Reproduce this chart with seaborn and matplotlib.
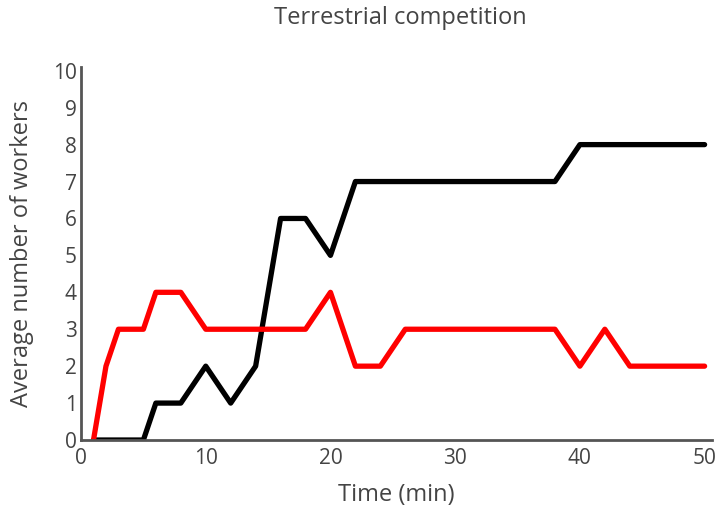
import numpy as np
import pandas as pd
import seaborn as sns
from matplotlib import pyplot as plt

# time points (min) and average number of workers per colony type
time = [1, 2, 3, 4, 5, 6, 8, 10, 12, 14, 16, 18, 20, 22, 24, 26, 28, 30,
        32, 34, 36, 38, 40, 42, 44, 46, 48, 50]
black_workers = [0, 0, 0, 0, 0, 1, 1, 2, 1, 2, 6, 6, 5, 7, 7, 7, 7, 7,
                 7, 7, 7, 7, 8, 8, 8, 8, 8, 8]
red_workers = [0, 2, 3, 3, 3, 4, 4, 3, 3, 3, 3, 3, 4, 2, 2, 3, 3, 3,
               3, 3, 3, 3, 2, 3, 2, 2, 2, 2]

df = pd.concat([
    pd.DataFrame({"time": time, "workers": black_workers, "group": "black"}),
    pd.DataFrame({"time": time, "workers": red_workers, "group": "red"}),
])

sns.set_style("white")
plt.rcParams['font.family'] = ['Open Sans', 'DejaVu Sans']
text_col = "#444444"

fig = plt.figure(figsize=(7.19, 5.12), dpi=100)
ax = fig.add_axes([0.1127, 0.1406, 0.877, 0.7284])

sns.lineplot(data=df, x="time", y="workers", hue="group",
             palette={"black": "black", "red": "red"},
             linewidth=3.8, legend=False, ax=ax)

ax.set_xlim(0, 50.56)
ax.set_ylim(0, 10.1)
ax.set_xticks([0, 10, 20, 30, 40, 50])
ax.set_yticks(range(0, 11))
ax.tick_params(length=0, labelsize=15, labelcolor=text_col)
ax.tick_params(axis="x", pad=6)
ax.tick_params(axis="y", pad=3)
ax.set_xlabel("Time (min)", fontsize=17, color=text_col)
ax.set_ylabel("Average number of workers", fontsize=17, color=text_col)
ax.xaxis.set_label_coords(0.5, -0.115)
ax.yaxis.set_label_coords(-0.075, 0.5)
fig.text(400 / 719, 1 - 18 / 512, "Terrestrial competition", fontsize=17,
         color=text_col, ha="center", va="center")

for side in ["top", "right"]:
    ax.spines[side].set_visible(False)
for side in ["left", "bottom"]:
    ax.spines[side].set_color("#555555")
    ax.spines[side].set_linewidth(2)

fig.savefig("out.png", dpi=100)
